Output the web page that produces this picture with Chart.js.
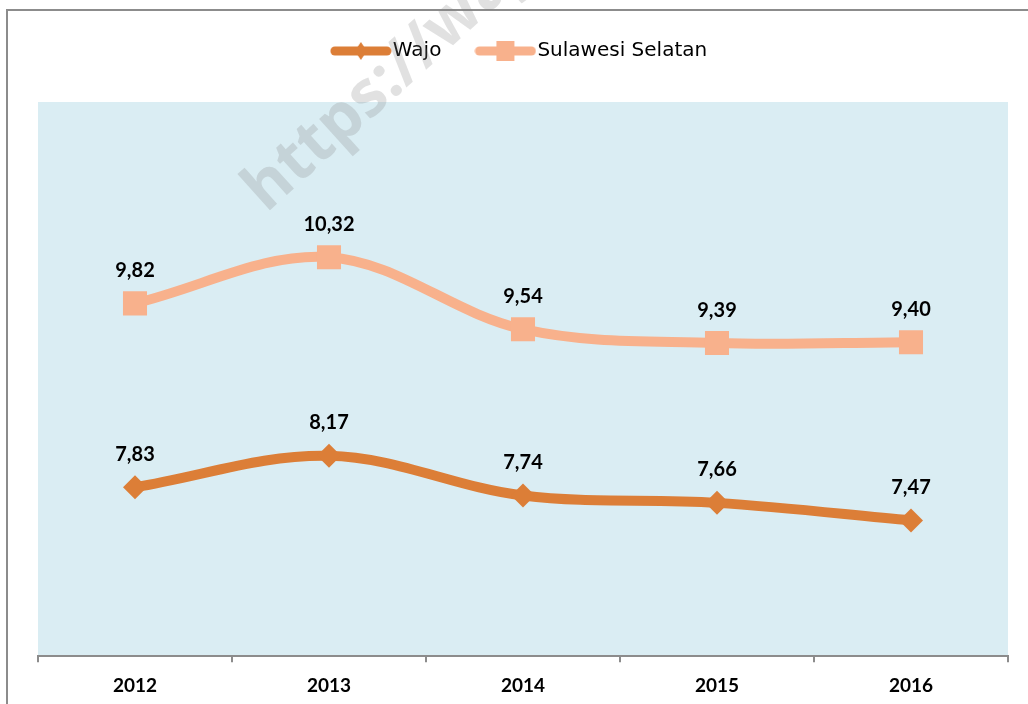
<!DOCTYPE html>
<html>
<head>
<meta charset="utf-8">
<script src="https://cdn.jsdelivr.net/npm/chart.js@4.4.1/dist/chart.umd.min.js"></script>
<style>
  body{margin:0;background:#fff;}
  #wrap{width:1028px;height:704px;}
</style>
</head>
<body>
<div id="wrap"><canvas id="grafik" width="1028" height="704"></canvas></div>
<script>
// data
const tahun=["2012","2013","2014","2015","2016"];
const wajo=[7.83,8.17,7.74,7.66,7.47];
const sulsel=[9.82,10.32,9.54,9.39,9.40];

const warnaWajo="#DC7E37";
const warnaSulsel="#F8B18C";

// small legend icons: line with marker in the middle
function ikonLegend(warna,bentuk){
    const c=document.createElement("canvas");
    c.width=62;c.height=24;
    const g=c.getContext("2d");
    g.strokeStyle=warna;g.lineWidth=9;g.lineCap="round";
    g.beginPath();g.moveTo(5,12);g.lineTo(57,12);g.stroke();
    g.fillStyle=warna;
    g.beginPath();
    if(bentuk==="diamond"){
        g.moveTo(31,3);g.lineTo(37,12);g.lineTo(31,21);g.lineTo(25,12);
    }else{
        g.rect(22,2,18,20);
    }
    g.fill();
    return c;
}

const latarPlot={
    id:"latarPlot",
    beforeLayout(chart){
        // extra room under the legend
        const lg=chart.legend;
        if(lg && !lg._tambah){
            const fitAsli=lg.fit;
            lg.fit=function(){fitAsli.call(this);this.height+=31;};
            lg._tambah=true;
        }
    },
    beforeDraw(chart){
        const {ctx,chartArea:a}=chart;
        ctx.save();
        ctx.fillStyle="#DAEDF3";
        ctx.fillRect(a.left,a.top,a.right-a.left,a.bottom-a.top);
        // frame lines top/left
        ctx.strokeStyle="#8c8c8c";ctx.lineWidth=2;
        ctx.beginPath();ctx.moveTo(7,704);ctx.lineTo(7,10);ctx.lineTo(1028,10);ctx.stroke();
        ctx.restore();
    }
};

const labelNilai={
    id:"labelNilai",
    afterDatasetsDraw(chart){
        const ctx=chart.ctx;
        ctx.save();
        ctx.font="bold 20px Lato";
        ctx.fillStyle="#000";
        ctx.textAlign="center";
        ctx.textBaseline="middle";
        chart.data.datasets.forEach((ds,i)=>{
            chart.getDatasetMeta(i).data.forEach((p,j)=>{
                ctx.fillText(ds.data[j].toFixed(2).replace(".",","),p.x,p.y-33);
            });
        });
        ctx.restore();
    }
};

const watermark={
    id:"watermark",
    afterDraw(chart){
        const ctx=chart.ctx;
        ctx.save();
        ctx.translate(254,200);
        ctx.rotate(-42*Math.PI/180);
        ctx.font="bold 64px 'Open Sans'";
        ctx.fillStyle="rgba(128,128,128,0.24)";
        ctx.fillText("https://wajokab.bps.go.id",0,0);
        ctx.restore();
    }
};

const ctx1=document.getElementById("grafik");
new Chart(ctx1,{
    type:"line",
    data:{
        labels:tahun,
        datasets:[
            {
                label:"Wajo",
                data:wajo,
                borderColor:warnaWajo,
                backgroundColor:warnaWajo,
                borderWidth:10,
                tension:0.35,
                pointStyle:"rectRot",
                pointRadius:12,
                pointBackgroundColor:warnaWajo,
                pointBorderWidth:0,
                legendIkon:ikonLegend(warnaWajo,"diamond")
            },
            {
                label:"Sulawesi Selatan",
                data:sulsel,
                borderColor:warnaSulsel,
                backgroundColor:warnaSulsel,
                borderWidth:10,
                tension:0.35,
                pointStyle:"rect",
                pointRadius:17,
                pointBackgroundColor:warnaSulsel,
                pointBorderWidth:0,
                legendIkon:ikonLegend(warnaSulsel,"square")
            }
        ]
    },
    options:{
        responsive:false,
        animation:false,
        layout:{padding:{left:38,right:20,top:-1,bottom:-5}},
        plugins:{
            legend:{
                display:true,
                position:"top",
                labels:{
                    usePointStyle:true,
                    pointStyleWidth:44,
                    padding:42,
                    color:"#000",
                    font:{family:"'DejaVu Sans'",size:20},
                    generateLabels(chart){
                        return chart.data.datasets.map((ds,i)=>({
                            text:ds.label,
                            pointStyle:ds.legendIkon,
                            fillStyle:ds.borderColor,
                            strokeStyle:ds.borderColor,
                            lineWidth:0,
                            fontColor:"#000",
                            hidden:false,
                            datasetIndex:i
                        }));
                    }
                }
            },
            tooltip:{enabled:false}
        },
        scales:{
            x:{
                offset:true,
                grid:{display:true,drawOnChartArea:false,drawTicks:true,tickLength:6,offset:true,color:"#8c8c8c",lineWidth:2},
                border:{display:true,color:"#8c8c8c",width:2},
                ticks:{color:"#000",padding:12,font:{family:"Lato",size:19,weight:"bold"}}
            },
            y:{
                display:false,
                min:6,
                max:12
            }
        }
    },
    plugins:[latarPlot,labelNilai,watermark]
});
</script>
</body>
</html>
